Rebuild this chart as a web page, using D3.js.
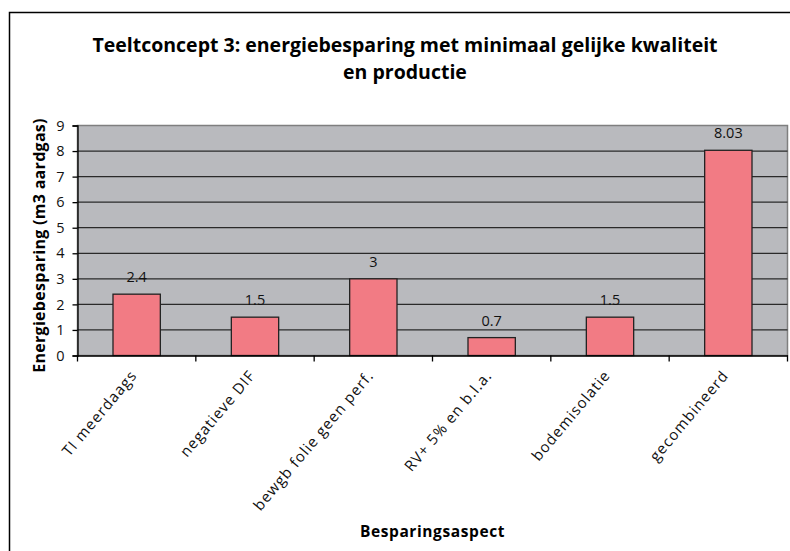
<!DOCTYPE html>
<html><head><meta charset="utf-8">
<script src="https://cdn.jsdelivr.net/npm/d3@7"></script>
<style>body{margin:0;background:#fff}svg{display:block}text{font-family:"Open Sans","DejaVu Sans",sans-serif}</style>
</head><body><svg id="c" width="790" height="551"></svg>
<script>
const categories = ["TI meerdaags","negatieve DIF","bewgb folie geen perf.","RV+ 5% en b.l.a.","bodemisolatie","gecombineerd"];
const values = [2.4, 1.5, 3, 0.7, 1.5, 8.03];
const valueLabels = ["2.4","1.5","3","0.7","1.5","8.03"];
const yTicks = [0,1,2,3,4,5,6,7,8,9];
const titleLines = ["Teeltconcept 3: energiebesparing met minimaal gelijke kwaliteit","en productie"];
const yTitle = "Energiebesparing (m3 aardgas)";
const xTitle = "Besparingsaspect";

const svg = d3.select("#c");
// outer chart border (cropped at right/bottom)
svg.append("rect").attr("x",9.5).attr("y",12.5).attr("width",800).attr("height",600)
  .attr("fill","#fff").attr("stroke","#000").attr("stroke-width",1.5);

const L=77.5, R=787.5, T=125.5, B=355.5;
const x = d3.scaleBand().domain(categories).range([L,R]).paddingInner(0.6).paddingOuter(0.3);
const xb = d3.scaleBand().domain(categories).range([L,R]);
const y = d3.scaleLinear().domain([0,9]).range([B,T]);

svg.append("rect").attr("x",L).attr("y",T).attr("width",R-L).attr("height",B-T)
  .attr("fill","#B9BABE").attr("stroke","#7f7f7f").attr("stroke-width",1.5);

svg.append("g").selectAll("line").data(yTicks.filter(d=>d>0&&d<9)).join("line")
  .attr("x1",L).attr("x2",R).attr("y1",d=>y(d)).attr("y2",d=>y(d))
  .attr("stroke","#2a2a2a").attr("stroke-width",1.2);

svg.append("g").selectAll("rect").data(values).join("rect")
  .attr("x",(d,i)=>x(categories[i])).attr("width",x.bandwidth())
  .attr("y",d=>y(d)).attr("height",d=>B-y(d))
  .attr("fill","#F27B84").attr("stroke","#222").attr("stroke-width",1.3);

svg.append("g").selectAll("text").data(values).join("text")
  .attr("x",(d,i)=>x(categories[i])+x.bandwidth()/2).attr("y",d=>y(d)-12)
  .attr("text-anchor","middle").attr("font-size",14.5).attr("fill","#111")
  .text((d,i)=>valueLabels[i]);

// y axis
const ya = svg.append("g").attr("transform",`translate(${L},0)`)
  .call(d3.axisLeft(y).tickValues(yTicks).tickSize(5).tickPadding(8).tickFormat(d3.format("d")));
ya.select(".domain").attr("stroke","#000").attr("stroke-width",1.3);
ya.selectAll(".tick line").attr("stroke","#000").attr("stroke-width",1.3);
ya.selectAll(".tick text").attr("font-size",14.5).attr("fill","#111").attr("font-family","'Open Sans',sans-serif");

// x axis
const xa = svg.append("g").attr("transform",`translate(0,${B})`)
  .call(d3.axisBottom(xb).tickSize(0).tickFormat(""));
xa.select(".domain").attr("stroke","#000").attr("stroke-width",1.3);
xa.selectAll(".tick").remove();
const edges = d3.range(categories.length+1).map(i=>L+i*xb.step());
svg.append("g").selectAll("line").data(edges).join("line")
  .attr("x1",d=>d).attr("x2",d=>d).attr("y1",B).attr("y2",B+6)
  .attr("stroke","#000").attr("stroke-width",1.3);

svg.append("g").selectAll("text").data(categories).join("text")
  .attr("transform",d=>`translate(${xb(d)+xb.bandwidth()/2-3},${B+17}) rotate(-50)`)
  .attr("text-anchor","end").attr("font-size",15).attr("letter-spacing",1).attr("fill","#111")
  .attr("dy","0.35em").text(d=>d);

// titles
svg.append("g").selectAll("text").data(titleLines).join("text")
  .attr("x",405).attr("y",(d,i)=>52+i*27).attr("text-anchor","middle")
  .attr("font-size",19.5).attr("font-weight","bold").attr("fill","#000").text(d=>d);

svg.append("text").attr("transform",`translate(45,${(T+B)/2+5}) rotate(-90)`)
  .attr("text-anchor","middle").attr("font-size",16).attr("font-weight","bold").attr("letter-spacing",0.3).text(yTitle);

svg.append("text").attr("x",(L+R)/2).attr("y",537).attr("text-anchor","middle")
  .attr("font-size",15.5).attr("font-weight","bold").attr("letter-spacing",0.6).text(xTitle);
</script></body></html>
